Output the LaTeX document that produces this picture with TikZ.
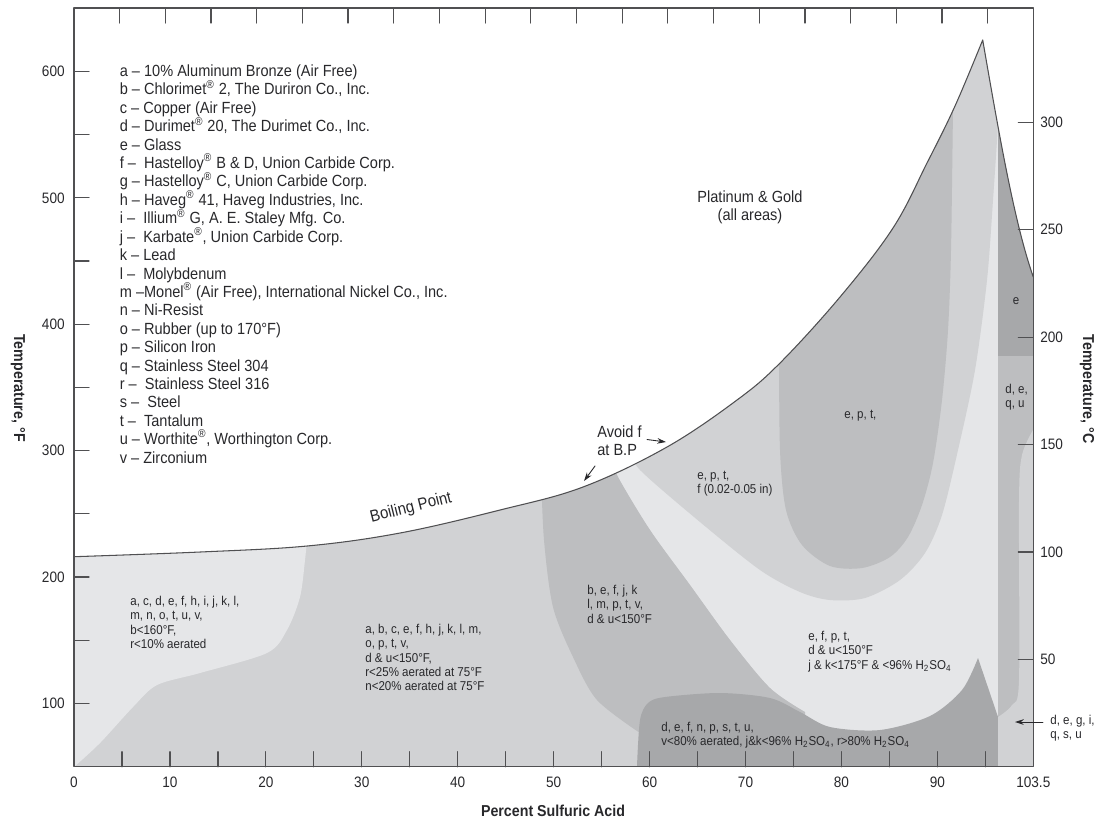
\documentclass[tikz,border=0pt]{standalone}
\usepackage{fontspec}
\setmainfont{Liberation Sans}[FakeStretch=0.9]
\usetikzlibrary{arrows.meta}
\definecolor{txt}{RGB}{40,40,43}
\definecolor{axgray}{RGB}{80,80,82}
\definecolor{zoneA}{RGB}{229,230,232}
\definecolor{zoneB}{RGB}{209,210,212}
\definecolor{zoneC}{RGB}{189,190,192}
\definecolor{zoneD}{RGB}{167,168,170}
\newcommand{\regd}{\textsuperscript{\textregistered}}
\newcommand{\hso}{H\textsubscript{2}SO\textsubscript{4}}
\def\bpcurve{plot[smooth,tension=0.6] coordinates {(74,556.7) (200,552) (307,546) (400,533) (500,510) (583,487) (667,447) (737,400) (780,363) (840,297) (893,228) (927,163) (955,106) (982.7,40)} .. controls (1000,140) and (1015,225) .. (1033.3,277)}
\begin{document}
\begin{tikzpicture}[x=0.02cm, y=-0.02cm, font=\fontsize{9.2}{10.6}\selectfont, text=txt, line join=round, line cap=round, >=stealth,
	zl/.style={font=\fontsize{7.3}{8.1}\selectfont, align=left, anchor=north west, inner sep=0pt},
	num/.style={font=\fontsize{8.6}{10}\selectfont, inner sep=0pt},
	axtitle/.style={font=\fontsize{9}{10}\selectfont\bfseries, inner sep=0pt},
	tk/.style={axgray, line width=0.7pt},
	pointer/.style={-{Stealth[length=5pt,width=3.2pt]}, txt, line width=0.5pt}]
	\useasboundingbox (0,0) rectangle (1101,823);
	\begin{scope}
		\clip \bpcurve -- (1033.3,766.7) -- (74,766.7) -- cycle;
		\fill[zoneB] (70,0) rectangle (1040,770);
		\fill[zoneA] plot[smooth] coordinates {(74,767) (100,743) (133,707) (157,685) (200,673) (267,653) (287,630) (300,597) (305,560) (308,530)} -- (310,480) -- (60,480) -- (60,767) -- cycle;
		\fill[zoneA] plot[smooth] coordinates {(610,455) (618,477) (650,530) (690,585) (730,640) (770,688) (805,712)} -- (805,770) -- (998,770) -- (998,0) -- (720,0) -- cycle;
		\fill[zoneB] plot[smooth] coordinates {(630,450) (640,470) (700,522) (760,570) (800,592) (830,600) (865,598) (900,580) (925,553) (942,515) (958,450) (975,370) (987,280) (993,200) (998,125)} -- (998,0) -- (700,0) -- cycle;
		\fill[zoneC] plot[smooth] coordinates {(779,340) (780,450) (786,510) (802,545) (830,566) (862,568) (890,557) (908,537) (922,505) (933,463) (942,400) (948,330) (951,250) (953,110) (954,60)} -- (770,60) -- cycle;
		\fill[zoneC] plot[smooth] coordinates {(541,470) (544,540) (553,607) (573,657) (597,700) (640,733)} -- (660,770) -- (805,770) -- plot[smooth] coordinates {(805,712) (770,688) (730,640) (690,585) (650,530) (618,477) (610,455)} -- cycle;
		\fill[zoneD] (637,770) -- plot[smooth] coordinates {(637,766) (640,720) (648,703) (665,697) (720,693) (770,698) (800,712) (830,727) (880,730) (930,716) (962,690) (978,658)} -- (998,717) -- (998,770) -- cycle;
		\fill[zoneD] (998,0) rectangle (1040,356);
		\fill[zoneC] (998,356) rectangle (1040,770);
		\fill[zoneB] (1040,425) -- plot[smooth] coordinates {(1033,430) (1022,455) (1019,500) (1019,680) (1012,705) (998,717)} -- (998,770) -- (1040,770) -- cycle;
	\end{scope}
	\draw[axgray, line width=0.6pt] \bpcurve;
	\draw[tk] (74,8) rectangle (1033.3,766.7);
	\foreach \k in {1,...,20} \draw[tk] ({74+\k*45.68},8) -- ++(0,15);
	\foreach \x in {5,10,...,95} \draw[tk] ({74+9.593*\x},766.7) -- ++(0,-15);
	\foreach \f in {100,150,...,600} \draw[tk] (74,{703.3-1.2636*(\f-100)}) -- ++(15,0);
	\foreach \c in {50,100,...,300} \draw[tk] (1033.3,{659.3-2.148*(\c-50)}) -- ++(-15,0);
	\foreach \x in {0,10,...,90} \node[num] (xl\x) at ({74+9.593*\x},782) {\x};
	\node[num] (xlend) at (1033.3,782) {103.5};
	\foreach \f in {100,200,...,600} \node[num,anchor=east] (fl\f) at (65,{703.3-1.2636*(\f-100)}) {\f};
	\foreach \c in {50,100,...,300} \node[num,anchor=west] (cl\c) at (1040,{659.3-2.148*(\c-50)}) {\c};
	\node[axtitle, rotate=-90] (ttlF) at (18,388) {Temperature, °F};
	\node[axtitle, rotate=-90] (ttlC) at (1087,389) {Temperature, °C};
	\node[axtitle] (ttlX) at (553,811) {Percent Sulfuric Acid};
	\foreach \entry [count=\i] in {{a -- 10\% Aluminum Bronze (Air Free)}, {b -- Chlorimet\regd\ 2, The Duriron Co., Inc.}, {c -- Copper (Air Free)}, {d -- Durimet\regd\ 20, The Durimet Co., Inc.}, {e -- Glass}, {f --~ Hastelloy\regd\ B \& D, Union Carbide Corp.}, {g -- Hastelloy\regd\ C, Union Carbide Corp.}, {h -- Haveg\regd\ 41, Haveg Industries, Inc.}, {i --~ Illium\regd\ G, A. E. Staley Mfg. Co.}, {j --~ Karbate\regd, Union Carbide Corp.}, {k -- Lead}, {l --~ Molybdenum}, {m --Monel\regd\ (Air Free), International Nickel Co., Inc.}, {n -- Ni-Resist}, {o -- Rubber (up to 170°F)}, {p -- Silicon Iron}, {q -- Stainless Steel 304}, {r --~ Stainless Steel 316}, {s --~ Steel}, {t --~ Tantalum}, {u -- Worthite\regd, Worthington Corp.}, {v -- Zirconium}}
		\node[anchor=base west, inner sep=0pt] (leg\i) at (119.5,{76.5+18.41*(\i-1)}) {\entry};
	\node[align=center, anchor=north, inner sep=0pt] (ptgold) at (750,190) {Platinum \& Gold\\(all areas)};
	\node[rotate=14, font=\fontsize{9.5}{11}\selectfont] (bpname) at (411,508) {Boiling Point};
	\node[align=left, anchor=north west, inner sep=0pt] (avoid) at (597,425) {Avoid f\\at B.P};
	\coordinate (avA0) at (647,439.5);
	\coordinate (avA1) at (666,442);
	\coordinate (avB0) at (595,466);
	\coordinate (avB1) at (584,481);
	\draw[pointer] (avA0) -- (avA1);
	\draw[pointer] (avB0) -- (avB1);
	\node[zl] (zn1) at (130,596) {a, c, d, e, f, h, i, j, k, l,\\m, n, o, t, u, v,\\b<160°F,\\r<10\% aerated};
	\node[zl] (zn2) at (365,624) {a, b, c, e, f, h, j, k, l, m,\\o, p, t, v,\\d \& u<150°F,\\r<25\% aerated at 75°F\\n<20\% aerated at 75°F};
	\node[zl] (zn3) at (587,585) {b, e, f, j, k\\l, m, p, t, v,\\d \& u<150°F};
	\node[zl] (zn4) at (697,471) {e, p, t,\\f (0.02-0.05 in)};
	\node[zl] (zn5) at (844,410) {e, p, t,};
	\node[zl] (zn6) at (808,631) {e, f, p, t,\\d \& u<150°F\\j \& k<175°F \& <96\% \hso};
	\node[zl] (zn7) at (661,722) {d, e, f, n, p, s, t, u,\\v<80\% aerated, j\&k<96\% \hso, r>80\% \hso};
	\node[font=\fontsize{7.3}{8.1}\selectfont, inner sep=0pt] (zn8) at (1016,301) {e};
	\node[zl] (zn9) at (1005,384) {d, e,\\q, u};
	\node[zl] (zn10) at (1050,715) {d, e, g, i,\\q, s, u};
	\coordinate (arR0) at (1043,722);
	\coordinate (arR1) at (1015,722);
	\draw[pointer] (arR0) -- (arR1);
\end{tikzpicture}
\end{document}
